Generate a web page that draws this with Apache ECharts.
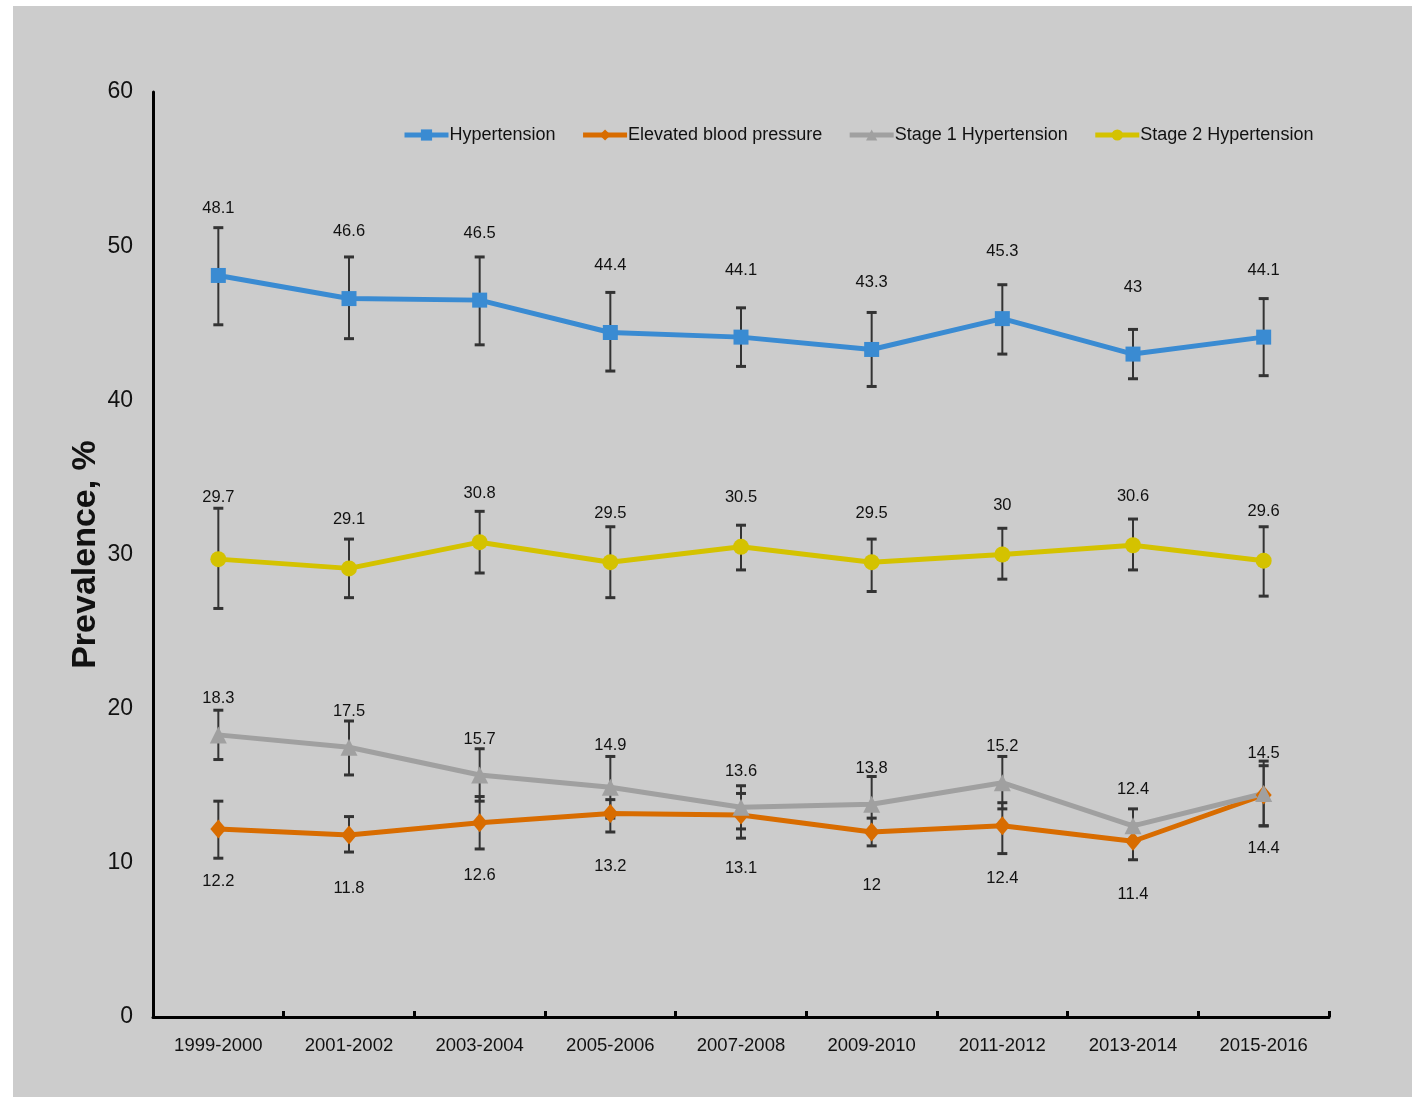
<!DOCTYPE html>
<html>
<head>
<meta charset="utf-8">
<script src="https://cdn.jsdelivr.net/npm/echarts@6/dist/echarts.min.js"></script>
<style>
  html, body { margin: 0; padding: 0; background: #ffffff; }
  #panel { position: absolute; left: 13px; top: 6px; width: 1399px; height: 1091px; background: #cccccc; }
  #chart { position: absolute; left: 0; top: 0; width: 1412px; height: 1099px; }
</style>
</head>
<body>
<div id="panel"></div>
<div id="chart"></div>
<script>
// Survey cycles
const cycles = ['1999-2000', '2001-2002', '2003-2004', '2005-2006', '2007-2008',
                '2009-2010', '2011-2012', '2013-2014', '2015-2016'];

// Prevalence (%) with 95% CI bounds
const hypertension    = [48.1, 46.6, 46.5, 44.4, 44.1, 43.3, 45.3, 43, 44.1];
const hypertensionLo  = [44.9, 44.0, 43.6, 41.9, 42.2, 40.9, 43.0, 41.4, 41.6];
const hypertensionHi  = [51.2, 49.3, 49.3, 47.0, 46.0, 45.7, 47.5, 44.6, 46.6];

const elevated        = [12.2, 11.8, 12.6, 13.2, 13.1, 12, 12.4, 11.4, 14.4];
const elevatedLo      = [10.3, 10.7, 10.9, 12.0, 11.6, 11.1, 10.6, 10.2, 12.4];
const elevatedHi      = [14.0, 13.0, 14.3, 14.1, 14.5, 12.9, 13.9, 12.5, 16.3];

const stage1          = [18.3, 17.5, 15.7, 14.9, 13.6, 13.8, 15.2, 12.4, 14.5];
const stage1Lo        = [16.7, 15.7, 14.0, 12.9, 12.2, 12.0, 13.5, 11.3, 12.4];
const stage1Hi        = [19.9, 19.2, 17.4, 16.9, 15.0, 15.6, 16.9, 13.5, 16.6];

const stage2          = [29.7, 29.1, 30.8, 29.5, 30.5, 29.5, 30, 30.6, 29.6];
const stage2Lo        = [26.5, 27.2, 28.8, 27.2, 29.0, 27.6, 28.4, 29.0, 27.3];
const stage2Hi        = [33.0, 31.0, 32.8, 31.8, 31.9, 31.0, 31.7, 32.3, 31.8];

const yTicks = [0, 10, 20, 30, 40, 50, 60];

const SANS = '"Liberation Sans", Arial, sans-serif';
const TEXT = '#111111';

function errorBarSeries(lo, hi) {
  return {
    type: 'custom',
    z: 1,
    silent: true,
    data: lo.map((l, i) => [i, l, hi[i]]),
    encode: { x: 0, y: [1, 2] },
    renderItem: function (params, api) {
      const top = api.coord([api.value(0), api.value(2)]);
      const bot = api.coord([api.value(0), api.value(1)]);
      const half = 5;
      const stem = { stroke: '#333333', lineWidth: 2 };
      const cap = { stroke: '#333333', lineWidth: 3 };
      return {
        type: 'group',
        children: [
          { type: 'line', shape: { x1: top[0], y1: top[1], x2: bot[0], y2: bot[1] }, style: stem },
          { type: 'line', shape: { x1: top[0] - half, y1: top[1], x2: top[0] + half, y2: top[1] }, style: cap },
          { type: 'line', shape: { x1: bot[0] - half, y1: bot[1], x2: bot[0] + half, y2: bot[1] }, style: cap }
        ]
      };
    }
  };
}

// Value labels sit at a fixed offset from each marker; a few are nudged
// clear of the error-bar caps (index -> vertical offset in px).
function lineSeries(name, values, color, symbol, symbolSize, labelDy, nudges) {
  const data = values.map((v, i) =>
    nudges && nudges[i] !== undefined ? { value: v, label: { offset: [0, nudges[i]] } } : v);
  return {
    name: name,
    type: 'line',
    z: 3,
    data: data,
    symbol: symbol,
    symbolSize: symbolSize,
    lineStyle: { color: color, width: 5 },
    itemStyle: { color: color },
    label: {
      show: true,
      position: 'inside',
      offset: [0, labelDy],
      fontFamily: SANS,
      fontSize: 16.5,
      color: TEXT
    },
    emphasis: { disabled: true }
  };
}

const chart = echarts.init(document.getElementById('chart'), null, { renderer: 'canvas' });

chart.setOption({
  backgroundColor: 'transparent',
  animation: false,
  grid: { left: 153, top: 92, width: 1176, height: 925, containLabel: false },
  legend: {
    left: 397,
    top: 121,
    itemWidth: 44,
    itemHeight: 14,
    itemGap: 25,
    lineStyle: { width: 5 },
    textStyle: { fontFamily: SANS, fontSize: 18, color: TEXT, padding: [0, 0, 0, -4] },
    data: ['Hypertension', 'Elevated blood pressure', 'Stage 1 Hypertension', 'Stage 2 Hypertension']
  },
  xAxis: {
    type: 'category',
    data: cycles,
    boundaryGap: true,
    axisLine: { lineStyle: { color: '#000000', width: 3 } },
    axisTick: { show: true, inside: true, length: 6, lineStyle: { color: '#000000', width: 3 } },
    axisLabel: { interval: 0, margin: 19, fontFamily: SANS, fontSize: 18.5, color: TEXT }
  },
  yAxis: {
    type: 'value',
    min: yTicks[0],
    max: yTicks[yTicks.length - 1],
    interval: yTicks[1] - yTicks[0],
    name: 'Prevalence, %',
    nameLocation: 'middle',
    nameGap: 50,
    nameMoveOverlap: false,
    nameTextStyle: { fontFamily: SANS, fontWeight: 'bold', fontSize: 34, color: TEXT },
    axisLine: { show: true, lineStyle: { color: '#000000', width: 3 } },
    axisTick: { show: false },
    splitLine: { show: false },
    axisLabel: { margin: 20, fontFamily: SANS, fontSize: 23, color: TEXT }
  },
  series: [
    errorBarSeries(hypertensionLo, hypertensionHi),
    errorBarSeries(stage2Lo, stage2Hi),
    errorBarSeries(stage1Lo, stage1Hi),
    errorBarSeries(elevatedLo, elevatedHi),
    lineSeries('Hypertension', hypertension, '#3a8bd2', 'rect', 15, -67),
    lineSeries('Elevated blood pressure', elevated, '#d86c00', 'diamond', [16, 19], 53),
    lineSeries('Stage 1 Hypertension', stage1, '#a0a0a0', 'triangle', 17, -36, { 3: -42, 8: -40 }),
    lineSeries('Stage 2 Hypertension', stage2, '#d4c200', 'circle', 16, -49, { 0: -62 })
  ]
});
</script>
</body>
</html>
